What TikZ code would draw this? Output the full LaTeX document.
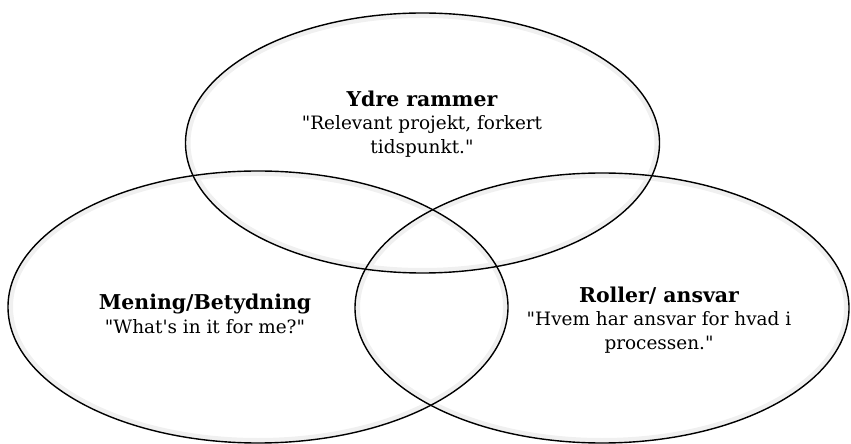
\documentclass[tikz,border=0pt]{standalone}
\usepackage{fontspec}
\setmainfont[Ligatures=TeXOff]{DejaVu Serif}
\usetikzlibrary{shapes.geometric}
\newcommand{\hd}[1]{{\fontsize{20.5}{23.5}\selectfont\bfseries #1}}
\begin{document}
\begin{tikzpicture}[x=1bp,y=-1bp,
  circ/.style={ellipse, draw=black, line width=1.4bp, inner sep=0pt},
  glow/.style={black!6, line width=10bp},
  lbl/.style={align=center, font=\fontsize{18.5}{23.5}\selectfont, inner sep=0pt}]
\useasboundingbox (0,0) rectangle (851,444);
% faint inner shading along each ring
\foreach \cx/\cy/\rx/\ry in {422.5/143/237/130, 258/307/250/136, 602/308/247/135}{
  \begin{scope}
    \clip (\cx,\cy) ellipse [x radius=\rx bp, y radius=\ry bp];
    \draw[glow] (\cx,\cy) ellipse [x radius=\rx bp, y radius=\ry bp];
  \end{scope}
}
% the three rings
\node[circ, minimum width=474bp, minimum height=260bp] (top) at (422.5,143) {};
\node[circ, minimum width=500bp, minimum height=272bp] (left) at (258,307) {};
\node[circ, minimum width=494bp, minimum height=270bp] (right) at (602,308) {};
% labels
\node[lbl] (ttop) at (422,124) {\hd{Ydre rammer}\\"Relevant projekt, forkert\\tidspunkt."};
\node[lbl] (tleft) at (205,314) {\hd{Mening/Betydning}\\"What's in it for me?"};
\node[lbl] (tright) at (659,320) {\hd{Roller/ ansvar}\\"Hvem har ansvar for hvad i\\processen."};
\end{tikzpicture}
\end{document}
